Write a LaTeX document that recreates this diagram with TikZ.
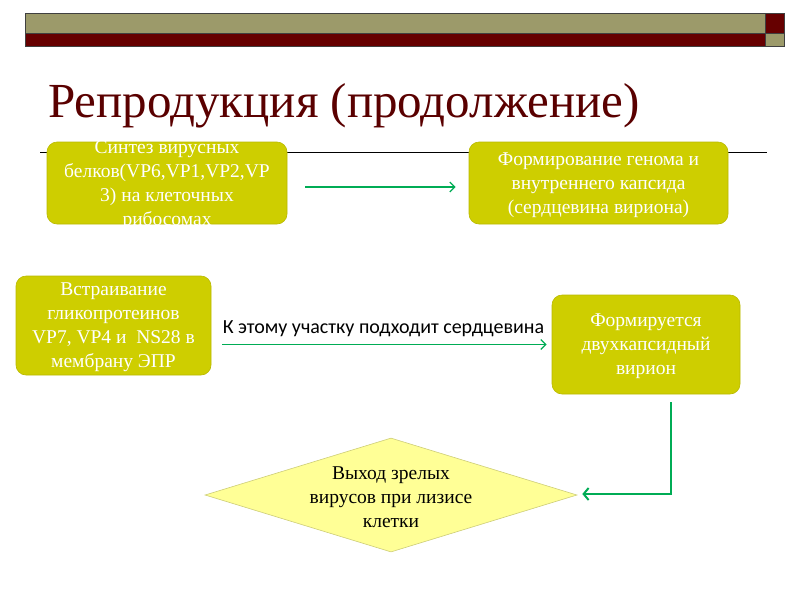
\documentclass[tikz,border=0pt]{standalone}
\usepackage{fontspec}
\setmainfont{Liberation Serif}
\newfontfamily\lblfont{Carlito}
\usetikzlibrary{shapes.geometric,arrows.meta}
\definecolor{olivebar}{RGB}{156,154,106}
\definecolor{darkred}{RGB}{102,0,0}
\definecolor{titlered}{RGB}{90,0,0}
\definecolor{boxfill}{RGB}{206,206,0}
\definecolor{boxline}{RGB}{185,185,0}
\definecolor{arrgreen}{RGB}{0,172,85}
\definecolor{diafill}{RGB}{255,255,150}
\definecolor{dialine}{RGB}{205,205,120}
\begin{document}
\begin{tikzpicture}[x=1pt,y=-1pt,
  bar/.style={draw=black!75, line width=0.7pt},
  box/.style={draw=boxline, fill=boxfill, rounded corners=10pt, inner sep=0pt, line width=0.6pt},
  boxtext/.style={text=white, align=center, font=\fontsize{19.5}{24}\selectfont, inner sep=0pt},
  arr/.style={draw=arrgreen, line width=1.3pt, -{Straight Barb[length=5pt,width=10pt]}},
  arrthick/.style={draw=arrgreen, line width=2pt, -{Straight Barb[length=5pt,width=12pt]}},
]
\useasboundingbox (0,0) rectangle (800,600);
% top bars
\fill[olivebar] (25,13) rectangle (765,33);
\fill[darkred] (25,33) rectangle (765,46);
\fill[darkred] (765,13) rectangle (784,33);
\fill[olivebar] (765,33) rectangle (784,46);
\draw[bar] (25,13) rectangle (784,46);
\draw[bar] (25,33) -- (784,33);
\draw[bar] (765,13) -- (765,46);
% title
\node[anchor=base west, text=titlered, font=\fontsize{49}{59}\selectfont, inner sep=0pt] (title) at (48,117) {Репродукция (продолжение)};
% rule
\draw[black, line width=0.9pt] (40,152) -- (767,152);
% boxes
\node[box, minimum width=240pt, minimum height=82pt] (b1) at (167,183) {};
\node[boxtext] (t1) at ([yshift=-2pt]b1.center) {Синтез вирусных\\белков(VP6,VP1,VP2,VP\\3) на клеточных\\рибосомах};
\node[box, minimum width=259pt, minimum height=82pt] (b2) at (598.5,183) {};
\node[boxtext] (t2) at ([yshift=-2.5pt]b2.center) {Формирование генома и\\внутреннего капсида\\(сердцевина вириона)};
\node[box, minimum width=195pt, minimum height=99pt] (b3) at (113.5,325.5) {};
\node[boxtext] (t3) at ([yshift=-2pt]b3.center) {Встраивание\\гликопротеинов\\VP7, VP4 и\ \ NS28 в\\мембрану ЭПР};
\node[box, minimum width=188pt, minimum height=99pt] (b4) at (646,344.5) {};
\node[boxtext] (t4) at ([yshift=-2pt]b4.center) {Формируется\\двухкапсидный\\вирион};
% diamond
\node[diamond, draw=dialine, fill=diafill, line width=0.6pt, inner sep=0pt, shape aspect=3.26, minimum width=372pt, minimum height=114pt] (d) at (391,495) {};
\node[align=center, font=\fontsize{19.5}{24}\selectfont, inner sep=0pt] (td) at ([yshift=-2pt]d.center) {Выход зрелых\\вирусов при лизисе\\клетки};
% label
\node[font=\lblfont\fontsize{20}{24}\selectfont, anchor=base, inner sep=0pt] (lbl) at (383.5,333) {К этому участку подходит сердцевина};
% connectors
\draw[arr, shorten <=18pt, shorten >=13pt] ([yshift=-4pt]b1.east) -- ([yshift=-4pt]b2.west);
\draw[arr, shorten <=11pt, shorten >=5pt] (b3.east |- b4.west) -- (b4.west);
\draw[arrthick, shorten >=5pt] ([xshift=25pt,yshift=-8pt]b4.south) |- ([yshift=1pt]d.east);
\end{tikzpicture}
\end{document}
